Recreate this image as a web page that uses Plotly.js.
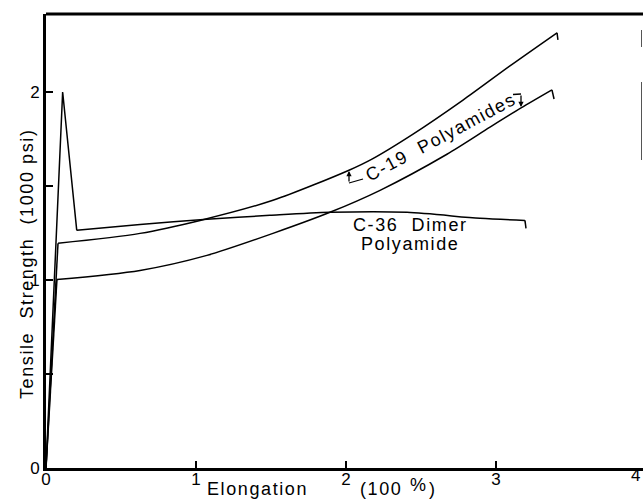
<!DOCTYPE html>
<html>
<head>
<meta charset="utf-8">
<script src="https://cdn.plot.ly/plotly-3.0.1.min.js"></script>
<style>
html,body{margin:0;padding:0;background:#fff;}
.annotation-text{letter-spacing:1.6px;}
</style>
</head>
<body>
<div id="chart" style="width:643px;height:500px;"></div>
<script>
// Elongation (100 %) and tensile strength (1000 psi)
const elongC36 = [0, 0.111, 0.205, 0.627, 1.073, 1.493, 1.893, 2.407, 2.893, 3.193, 3.2];
const strengthC36 = [0, 2.0, 1.264, 1.295, 1.323, 1.344, 1.36, 1.36, 1.328, 1.317, 1.275];

const elongC19a = [0, 0.08, 0.627, 1.027, 1.513, 2.02, 2.173, 2.447, 2.78, 3.093, 3.407, 3.413];
const strengthC19a = [0, 1.195, 1.248, 1.317, 1.424, 1.584, 1.643, 1.776, 1.957, 2.139, 2.315, 2.277];

const elongC19b = [0, 0.073, 0.627, 1.073, 1.513, 1.893, 2.227, 2.673, 2.96, 3.167, 3.373, 3.387];
const strengthC19b = [0, 1.003, 1.051, 1.131, 1.248, 1.36, 1.477, 1.669, 1.813, 1.915, 2.011, 1.963];

const xTickVals = [0, 1, 2, 3, 4];
const xTickText = ['0', '1', '2', '3', '4'];
const yTickVals = [0, 0.5, 1, 1.5, 2];
const yTickText = ['0', '', '1', '', '2'];

const FONT = 'Liberation Sans, Arial, Helvetica, sans-serif';
const lineStyle = {color: '#000', width: 1.5};

// each curve: sharp linear start, smooth middle, sharp end tick
function seg(xs, ys, i0, i1, shape, name) {
  return {
    x: xs.slice(i0, i1 + 1), y: ys.slice(i0, i1 + 1), mode: 'lines',
    line: Object.assign({shape: shape, smoothing: 0.8}, lineStyle),
    name: name, cliponaxis: false, hoverinfo: 'skip'
  };
}

const nA = elongC19a.length, nB = elongC19b.length, nC = elongC36.length;
const traces = [
  seg(elongC36, strengthC36, 0, 2, 'linear', 'C-36 Dimer Polyamide'),
  seg(elongC36, strengthC36, 2, nC - 2, 'spline', 'C-36 Dimer Polyamide'),
  seg(elongC36, strengthC36, nC - 2, nC - 1, 'linear', 'C-36 Dimer Polyamide'),
  seg(elongC19a, strengthC19a, 0, 1, 'linear', 'C-19 Polyamide (upper)'),
  seg(elongC19a, strengthC19a, 1, nA - 2, 'spline', 'C-19 Polyamide (upper)'),
  seg(elongC19a, strengthC19a, nA - 2, nA - 1, 'linear', 'C-19 Polyamide (upper)'),
  seg(elongC19b, strengthC19b, 0, 1, 'linear', 'C-19 Polyamide (lower)'),
  seg(elongC19b, strengthC19b, 1, nB - 2, 'spline', 'C-19 Polyamide (lower)'),
  seg(elongC19b, strengthC19b, nB - 2, nB - 1, 'linear', 'C-19 Polyamide (lower)')
];

// plot area geometry helpers (pixels -> paper)
const L = 46, W = 597, T = 14, H = 454;
const px = v => (v - L) / W;
const py = v => (T + H - v) / H;

const txt = (text, x, y, opts) => Object.assign({
  text: text, xref: 'paper', yref: 'paper', x: px(x), y: py(y),
  xanchor: 'center', yanchor: 'middle', showarrow: false,
  font: {family: FONT, size: 18, color: '#000'}, borderpad: 0
}, opts || {});

const annotations = [
  txt('Tensile\u00a0\u00a0Strength\u00a0\u00a0(1000\u00a0psi)', 27, 264, {textangle: -90}),
  txt('Elongation', 257, 489),
  txt('(100', 381, 489),
  txt('%', 419, 485),
  txt(')', 433, 489),
  txt('4', 643, 475, {xanchor: 'right', font: {family: FONT, size: 17, color: '#000'}}),
  txt('C-36\u00a0\u00a0Dimer', 411, 225),
  txt('Polyamide', 410, 244),
  txt('C-19\u00a0\u00a0Polyamides', 441, 137, {textangle: -28}),
  {xref: 'paper', yref: 'paper', x: px(349), y: py(171), ax: 0, ay: 12,
   showarrow: true, arrowhead: 2, arrowsize: 0.8, arrowwidth: 1.3, arrowcolor: '#000', text: ''},
  {xref: 'paper', yref: 'paper', x: px(521), y: py(107), ax: 0, ay: -13,
   showarrow: true, arrowhead: 2, arrowsize: 0.8, arrowwidth: 1.3, arrowcolor: '#000', text: ''}
];

const shapes = [
  {type: 'line', xref: 'paper', yref: 'paper', x0: 0, x1: 1, y0: 1, y1: 1, line: {color: '#000', width: 3}},
  {type: 'line', xref: 'paper', yref: 'paper', x0: px(349), x1: px(363), y0: py(183), y1: py(179), line: {color: '#000', width: 1.3}},
  {type: 'line', xref: 'paper', yref: 'paper', x0: px(513), x1: px(521), y0: py(94.5), y1: py(94), line: {color: '#000', width: 1.3}},
  {type: 'line', xref: 'paper', yref: 'paper', x0: px(641.5), x1: px(641.5), y0: py(30), y1: py(47), line: {color: '#555', width: 1}},
  {type: 'line', xref: 'paper', yref: 'paper', x0: px(641.5), x1: px(641.5), y0: py(82), y1: py(160), line: {color: '#555', width: 1}}
];

const layout = {
  width: 643, height: 500,
  margin: {l: L, r: 643 - L - W, t: T, b: 500 - T - H, pad: 0},
  paper_bgcolor: '#fff', plot_bgcolor: '#fff',
  showlegend: false,
  font: {family: FONT, size: 17, color: '#000'},
  xaxis: {
    range: [0, W / 150], tickvals: xTickVals, ticktext: xTickText,
    showgrid: false, zeroline: false, showline: true, linecolor: '#000', linewidth: 3,
    ticks: 'inside', ticklen: 7, tickwidth: 1.5, tickcolor: '#000', ticklabelstandoff: -6,
    tickfont: {family: FONT, size: 17, color: '#000'}, fixedrange: true
  },
  yaxis: {
    range: [0, H / 188], tickvals: yTickVals, ticktext: yTickText,
    showgrid: false, zeroline: false, showline: true, linecolor: '#000', linewidth: 3,
    ticks: 'inside', ticklen: 7, tickwidth: 1.5, tickcolor: '#000',
    tickfont: {family: FONT, size: 17, color: '#000'}, fixedrange: true
  },
  annotations: annotations,
  shapes: shapes
};

Plotly.newPlot('chart', traces, layout, {displayModeBar: false, staticPlot: true});
</script>
</body>
</html>
